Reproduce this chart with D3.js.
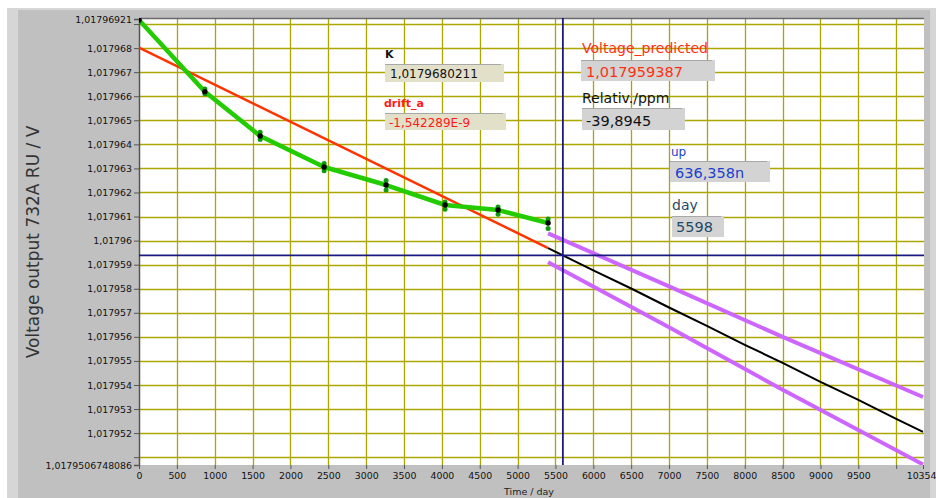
<!DOCTYPE html>
<html>
<head>
<meta charset="utf-8">
<script src="https://cdn.jsdelivr.net/npm/d3@7"></script>
<style>
  html, body { margin: 0; padding: 0; background: #ffffff; }
  svg { display: block; }
  .tick text { font-family: "DejaVu Sans", sans-serif; font-size: 9.4px; fill: #111; }
  .tick line { stroke: #555; }
</style>
</head>
<body>
<svg id="chart" width="936" height="498"></svg>
<script>
// ---------------- data ----------------
const measDays  = [0, 870, 1600, 2445, 3263, 4042, 4742, 5403];
const measMean  = [1.01796917, 1.01796619, 1.01796435, 1.01796306, 1.01796231, 1.01796148, 1.01796127, 1.01796073];
const measHigh  = [1.0179692, 1.0179663, 1.0179645, 1.0179632, 1.0179625, 1.0179616, 1.0179614, 1.0179609];
const measLow   = [1.0179691, 1.0179661, 1.0179642, 1.0179629, 1.0179621, 1.0179613, 1.0179611, 1.0179605];

const fitDays   = [0, 5403];
const fitValues = [1.0179680211, 1.0179596881];

const predDays   = [5403, 6000, 6500, 7000, 7500, 8000, 8500, 9000, 9500, 10000, 10354];
const predValues = [1.01795969, 1.01795876, 1.01795801, 1.01795722, 1.01795646, 1.01795567, 1.01795492, 1.01795413, 1.01795338, 1.01795259, 1.01795205];

const bandDays   = [5403, 7000, 8500, 10354];
const upperBand  = [1.0179603, 1.0179581, 1.0179560, 1.0179535];
const lowerBand  = [1.0179591, 1.0179564, 1.0179538, 1.0179507];

const cursorDay     = 5598;
const cursorVoltage = 1.017959387;

const xTicks      = [0,500,1000,1500,2000,2500,3000,3500,4000,4500,5000,5500,6000,6500,7000,7500,8000,8500,9000,9500,10000,10354];
const xTickLabels = ["0","500","1000","1500","2000","2500","3000","3500","4000","4500","5000","5500","6000","6500","7000","7500","8000","8500","9000","9500","","10354"];
const yTicks      = [1.01796921,1.017969,1.017968,1.017967,1.017966,1.017965,1.017964,1.017963,1.017962,1.017961,1.01796,
                     1.017959,1.017958,1.017957,1.017956,1.017955,1.017954,1.017953,1.017952,1.017951,1.0179506748086];
const yTickLabels = ["1,01796921","","1,017968","1,017967","1,017966","1,017965","1,017964","1,017963","1,017962","1,017961","1,01796",
                     "1,017959","1,017958","1,017957","1,017956","1,017955","1,017954","1,017953","1,017952","","1,0179506748086"];
const xGrid = [500,1000,1500,2000,2500,3000,3500,4000,4500,5000,5500,6000,6500,7000,7500,8000,8500,9000,9500,10000];
const yGrid = [1.017969,1.017968,1.017967,1.017966,1.017965,1.017964,1.017963,1.017962,1.017961,1.01796,
               1.017959,1.017958,1.017957,1.017956,1.017955,1.017954,1.017953,1.017952,1.017951];

const indicators = [
  {label: "K",                 value: "1,0179680211",  lx: 385, ly: 58,  bx: 385, by: 64,  bw: 119, bh: 18, tx: 390, ty: 78,  fill: "#e3e0c9", lcol: "#111", vcol: "#111", lsize: 11, vsize: 12, lw: 600},
  {label: "drift_a",           value: "-1,542289E-9",  lx: 384, ly: 107, bx: 385, by: 113, bw: 121, bh: 17, tx: 389, ty: 127, fill: "#e3e0c9", lcol: "#ff1a1a", vcol: "#ff1a1a", lsize: 11, vsize: 12, lw: 600},
  {label: "Voltage_predicted", value: "1,017959387",   lx: 582, ly: 53,  bx: 581, by: 60,  bw: 134, bh: 21, tx: 586, ty: 77,  fill: "#d3d3d3", lcol: "#ff3010", vcol: "#ff3010", lsize: 14, vsize: 14.5, lw: 400},
  {label: "Relativ./ppm",      value: "-39,8945",      lx: 582, ly: 103, bx: 582, by: 108, bw: 103, bh: 22, tx: 586, ty: 126, fill: "#d3d3d3", lcol: "#111", vcol: "#111", lsize: 14, vsize: 14.5, lw: 400},
  {label: "up",                value: "636,358n",      lx: 671, ly: 156, bx: 670, by: 161, bw: 100, bh: 21, tx: 675, ty: 178, fill: "#d3d3d3", lcol: "#1a3fd0", vcol: "#1a3fd0", lsize: 12, vsize: 14.5, lw: 400},
  {label: "day",               value: "5598",          lx: 672, ly: 210, bx: 672, by: 216, bw: 52,  bh: 21, tx: 676, ty: 232, fill: "#d3d3d3", lcol: "#1f4a66", vcol: "#1f4a66", lsize: 14, vsize: 14.5, lw: 400}
];

// ---------------- drawing ----------------
const svg = d3.select("#chart");
const W = 936, H = 498;
const plot = {left: 139, top: 18, right: 924, bottom: 465};

// frame backgrounds
svg.append("rect").attr("x", 7).attr("y", 8).attr("width", W - 7).attr("height", H - 8).attr("fill", "#d6d6d6");
svg.append("rect").attr("x", 18).attr("y", 10).attr("width", 912).attr("height", H - 10).attr("fill", "#c0c0c0");

const x = d3.scaleLinear().domain([0, 10354]).range([139, 923]);
const y = d3.scaleLinear().domain([1.0179506748086, 1.01796921]).range([465, 19]);

// plot area
svg.append("rect").attr("x", plot.left).attr("y", plot.top)
  .attr("width", plot.right - plot.left).attr("height", plot.bottom - plot.top).attr("fill", "#ffffff");

svg.append("defs").append("clipPath").attr("id", "clip")
  .append("rect").attr("x", plot.left).attr("y", plot.top)
  .attr("width", plot.right - plot.left).attr("height", plot.bottom - plot.top);

// grid
const grid = svg.append("g").attr("clip-path", "url(#clip)");
grid.selectAll("line.v").data(xGrid).join("line").attr("class", "v")
  .attr("x1", d => Math.round(x(d)) + 0.5).attr("x2", d => Math.round(x(d)) + 0.5)
  .attr("y1", plot.top).attr("y2", plot.bottom)
  .attr("stroke", "#aca600").attr("stroke-width", 1.3);
grid.selectAll("line.h").data(yGrid).join("line").attr("class", "h")
  .attr("x1", plot.left).attr("x2", plot.right)
  .attr("y1", d => Math.round(y(d)) + 0.5).attr("y2", d => Math.round(y(d)) + 0.5)
  .attr("stroke", "#aca600").attr("stroke-width", 1.3);

// plot border (top)
svg.append("line").attr("x1", plot.left).attr("x2", plot.right).attr("y1", plot.top + 0.5).attr("y2", plot.top + 0.5)
  .attr("stroke", "#6a6a6a").attr("stroke-width", 1.5);

// axes
const yAxis = d3.axisLeft(y).tickValues(yTicks).tickFormat((d, i) => yTickLabels[i]).tickSize(5).tickPadding(2);
const gy = svg.append("g").attr("transform", `translate(${plot.left},0)`).call(yAxis);
gy.select(".domain").attr("stroke", "#555").attr("stroke-width", 1.5);

const xAxis = d3.axisBottom(x).tickValues(xTicks).tickFormat((d, i) => xTickLabels[i]).tickSize(4).tickPadding(3);
const gx = svg.append("g").attr("transform", `translate(0,${plot.bottom})`).call(xAxis);
gx.select(".domain").remove();
gx.selectAll(".tick text").filter((d, i) => i === xTicks.length - 1).attr("text-anchor", "end").attr("dx", 13);

// axis titles
svg.append("text")
  .attr("transform", "translate(39,242) rotate(-90)")
  .attr("text-anchor", "middle")
  .attr("font-family", "DejaVu Sans, sans-serif").attr("font-size", 17)
  .attr("fill", "#333").text("Voltage output 732A RU / V");
svg.append("text")
  .attr("x", 504).attr("y", 495)
  .attr("font-family", "DejaVu Sans, sans-serif").attr("font-size", 9.5)
  .attr("fill", "#222").text("Time / day");

// series
const series = svg.append("g").attr("clip-path", "url(#clip)");
const line = d3.line().x(d => x(d[0])).y(d => y(d[1]));

// red linear fit
series.append("path").datum(fitDays.map((d, i) => [d, fitValues[i]]))
  .attr("d", line).attr("fill", "none").attr("stroke", "#ff3300").attr("stroke-width", 2.5);

// purple bands
[upperBand, lowerBand].forEach(b => {
  series.append("path").datum(bandDays.map((d, i) => [d, b[i]]))
    .attr("d", line).attr("fill", "none").attr("stroke", "#cc66ff").attr("stroke-width", 4);
});

// black prediction
series.append("path").datum(predDays.map((d, i) => [d, predValues[i]]))
  .attr("d", line).attr("fill", "none").attr("stroke", "#000").attr("stroke-width", 2);

// green measurement line
series.append("path").datum(measDays.map((d, i) => [d, measMean[i]]))
  .attr("d", line).attr("fill", "none").attr("stroke", "#22cc00").attr("stroke-width", 4.5)
  .attr("stroke-linejoin", "round");

// measurement spread points
const pts = [];
measDays.forEach((d, i) => { pts.push([d, measHigh[i]]); pts.push([d, measLow[i]]); });
series.selectAll("circle.spread").data(pts).join("circle").attr("class", "spread")
  .attr("cx", d => x(d[0])).attr("cy", d => y(d[1])).attr("r", 2.5).attr("fill", "#119911");
series.selectAll("circle.mean").data(measDays.map((d, i) => [d, measMean[i]])).join("circle").attr("class", "mean")
  .attr("cx", d => x(d[0])).attr("cy", d => y(d[1])).attr("r", 2.7).attr("fill", "#000");

// cursors
series.append("line").attr("x1", x(cursorDay)).attr("x2", x(cursorDay)).attr("y1", plot.top).attr("y2", plot.bottom)
  .attr("stroke", "#1a1a80").attr("stroke-width", 1.8);
series.append("line").attr("x1", plot.left).attr("x2", plot.right).attr("y1", y(cursorVoltage)).attr("y2", y(cursorVoltage))
  .attr("stroke", "#1a1a80").attr("stroke-width", 1.8);

// indicators
const ind = svg.append("g").selectAll("g").data(indicators).join("g");
ind.append("text").attr("x", d => d.lx).attr("y", d => d.ly)
  .attr("font-family", "DejaVu Sans, sans-serif").attr("font-size", d => d.lsize).attr("font-weight", d => d.lw)
  .attr("fill", d => d.lcol).text(d => d.label);
ind.append("rect").attr("x", d => d.bx).attr("y", d => d.by).attr("width", d => d.bw).attr("height", d => d.bh)
  .attr("fill", d => d.fill);
ind.append("line").attr("x1", d => d.bx).attr("x2", d => d.bx + d.bw - 3).attr("y1", d => d.by + 0.5).attr("y2", d => d.by + 0.5)
  .attr("stroke", "#a8a8a8").attr("stroke-width", 1);
ind.append("text").attr("x", d => d.tx).attr("y", d => d.ty)
  .attr("font-family", "DejaVu Sans, sans-serif").attr("font-size", d => d.vsize)
  .attr("fill", d => d.vcol).text(d => d.value);
</script>
</body>
</html>
